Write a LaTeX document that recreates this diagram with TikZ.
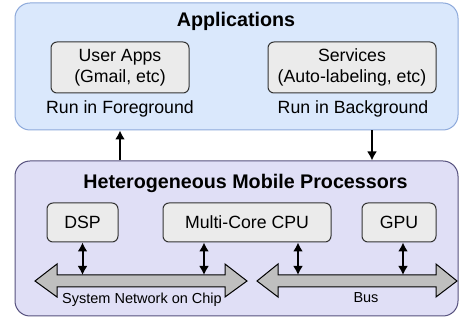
\documentclass[tikz,border=0pt]{standalone}
\usepackage{fontspec}
\setmainfont{Liberation Sans}
\usetikzlibrary{arrows.meta}
\definecolor{appfill}{HTML}{DAE8FC}
\definecolor{appline}{HTML}{8EAADB}
\definecolor{procfill}{HTML}{E0DFF6}
\definecolor{procline}{HTML}{56517E}
\definecolor{unitfill}{HTML}{EBEBEB}
\definecolor{unitline}{HTML}{333333}
\definecolor{busfill}{HTML}{BFBFBF}
\begin{document}
\begin{tikzpicture}[x=1pt, y=-1pt,
    panel/.style={draw, rounded corners=15pt, line width=1pt, inner sep=0pt},
    unit/.style={draw=unitline, fill=unitfill, rounded corners=6pt, line width=1pt,
                 inner sep=0pt, align=center, font=\fontsize{17.7}{21}\selectfont},
    title/.style={anchor=base, font=\fontsize{19.7}{24}\selectfont\bfseries},
    note/.style={anchor=base, font=\fontsize{17.7}{21}\selectfont},
    small/.style={anchor=base, font=\fontsize{14.5}{17}\selectfont},
    link/.style={line width=2pt, {Latex[length=9pt,width=10pt]}-{Latex[length=9pt,width=10pt]}},
    flow/.style={line width=2pt, -{Latex[length=9pt,width=10pt]}},
    bus/.style={draw, fill=busfill, line width=1pt, line join=miter}]
    \useasboundingbox (0,0) rectangle (459,323);

    % the two layers
    \node (app) [panel, fill=appfill, draw=appline, minimum width=443pt, minimum height=127pt] at (236.5,66.5) {};
    \node (proc) [panel, fill=procfill, draw=procline, minimum width=443pt, minimum height=155pt] at (236.5,238.5) {};

    \node (apptitle) [title] at (236,27) {Applications};
    \node (user) [unit, minimum width=138pt, minimum height=51pt] at (120,67.5) {User Apps\\(Gmail, etc)};
    \node (srv) [unit, minimum width=168pt, minimum height=51pt] at (352,67.5) {Services\\(Auto-labeling, etc)};
    \node (fg) [note] at (120,113.3) {Run in Foreground};
    \node (bg) [note] at (353,113.3) {Run in Background};

    \node (proctitle) [title] at (245.5,188.3) {Heterogeneous Mobile Processors};
    \node (dsp) [unit, minimum width=71pt, minimum height=39pt] at (82.5,222.5) {DSP};
    \node (cpu) [unit, minimum width=168pt, minimum height=39pt] at (247,222.5) {Multi-Core CPU};
    \node (gpu) [unit, minimum width=74pt, minimum height=39pt] at (399,222.5) {GPU};

    % interconnects
    \draw [bus] (35,281) -- (57,264) -- (57,275) -- (225,275) -- (225,264) -- (247,281)
                -- (225,297) -- (225,287) -- (57,287) -- (57,297) -- cycle;
    \draw [bus] (257,281) -- (278,264) -- (278,275) -- (436,275) -- (436,264) -- (457,281)
                -- (436,297) -- (436,287) -- (278,287) -- (278,297) -- cycle;
    \coordinate (noc) at (141,275);
    \coordinate (bus) at (357,275);
    \node (noclabel) [small] at (142,303.5) {System Network on Chip};
    \node (buslabel) [small] at (366,303) {Bus};

    \draw [link] (dsp.south) -- (dsp.south |- noc);
    \draw [link] ([xshift=-43pt]cpu.south) -- ([xshift=-43pt]cpu.south |- noc);
    \draw [link] ([xshift=51pt]cpu.south) -- ([xshift=51pt]cpu.south |- bus);
    \draw [link] ([xshift=4pt]gpu.south) -- ([xshift=4pt]gpu.south |- bus);

    \draw [flow] (proc.north -| user) -- (app.south -| user);
    \draw [flow] ([xshift=20pt]app.south -| srv) -- ([xshift=20pt]proc.north -| srv);
\end{tikzpicture}
\end{document}
